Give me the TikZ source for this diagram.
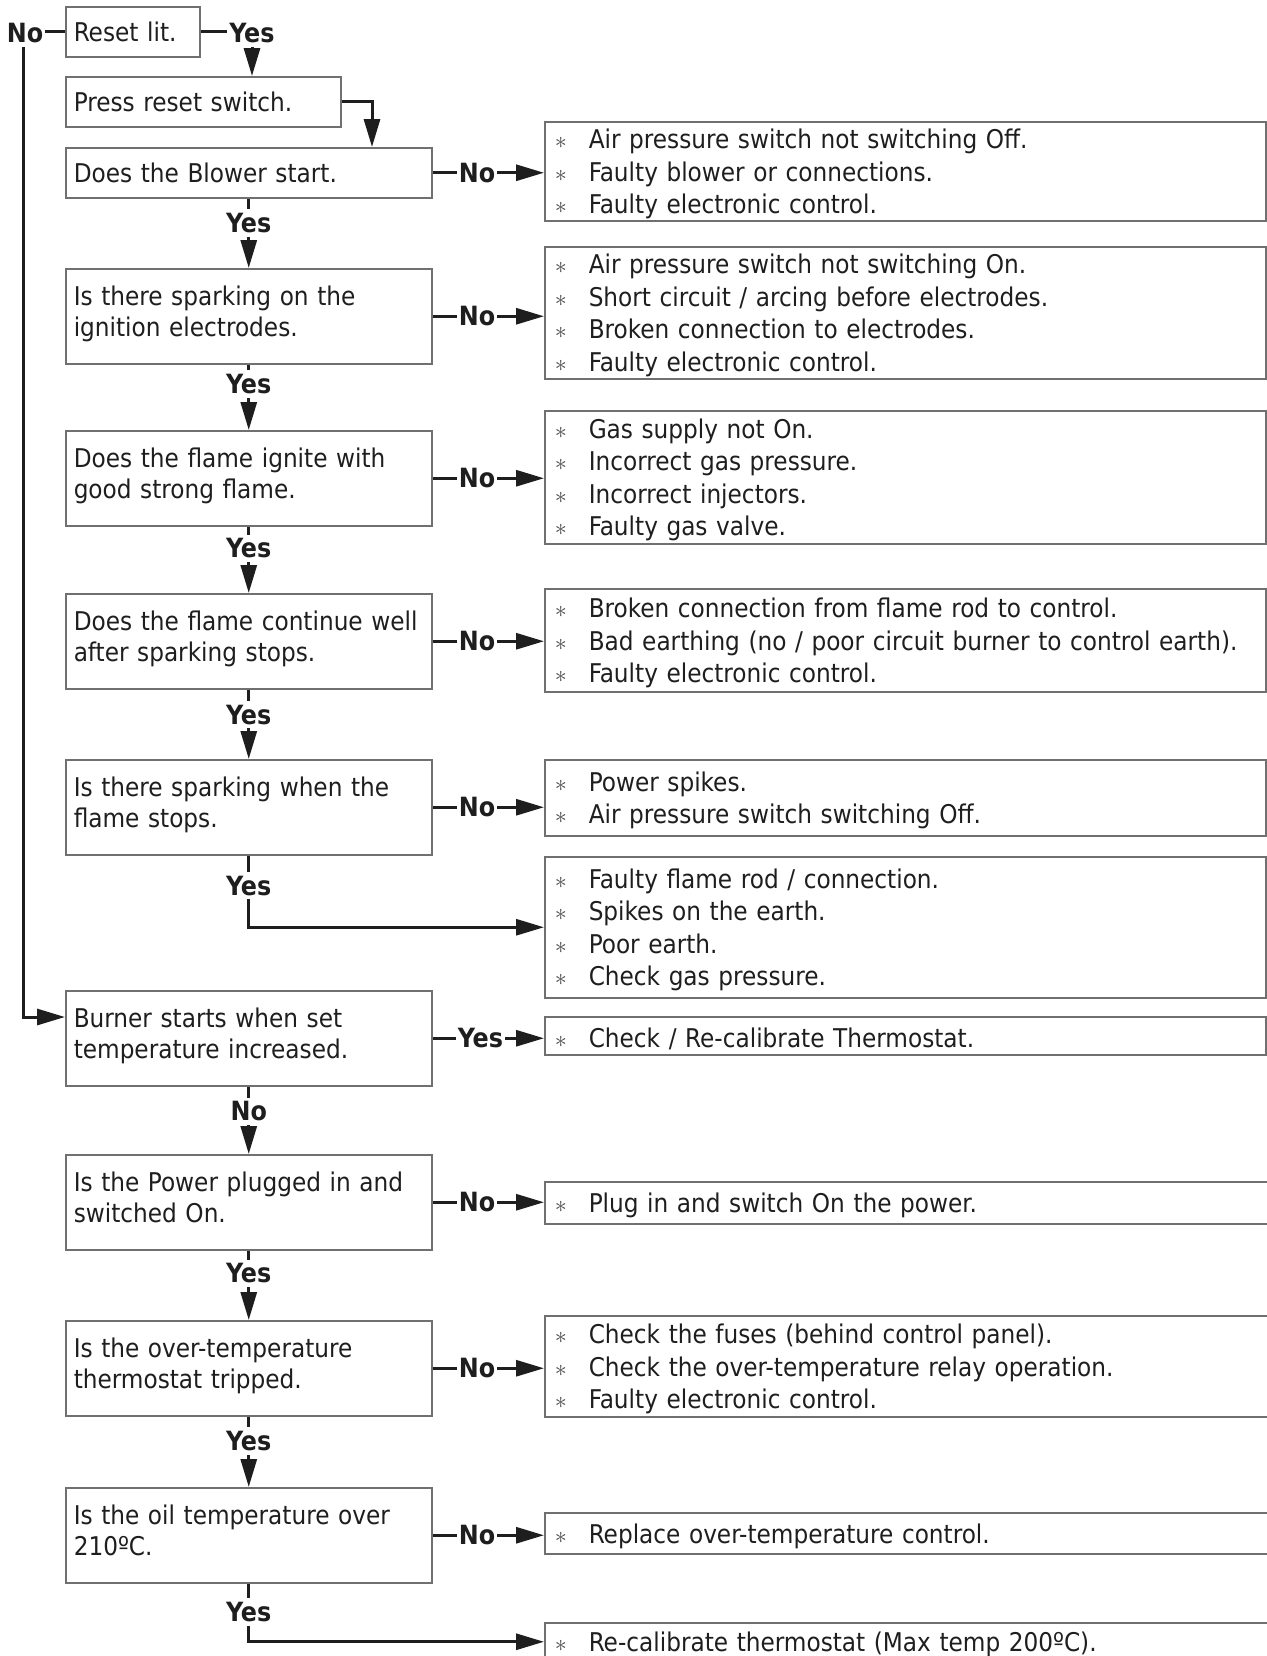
\documentclass[tikz,border=0pt]{standalone}
\usepackage{fontspec}
\setmainfont{DejaVu Sans Condensed}
\usetikzlibrary{arrows.meta}

\definecolor{boxgrey}{HTML}{707070}
\definecolor{stargrey}{HTML}{4A4A4A}
\definecolor{inkgrey}{HTML}{1E1E1E}

\newcommand{\cause}[1]{\makebox[18pt][l]{\hspace{1pt}\textcolor{stargrey}{$\ast$}}#1}

\begin{document}
\begin{tikzpicture}[x=0.5pt, y=-0.5pt,
    every node/.style={text=inkgrey},
    sbox/.style={draw=boxgrey, line width=0.75pt, anchor=north west, inner xsep=4pt, inner ysep=2pt,
        text width=175pt, align=left, minimum height=25pt, font=\fontsize{12.9pt}{15.5pt}\selectfont},
    qbox/.style={sbox, minimum height=47.5pt, execute at end node={\rule[-5pt]{0pt}{5pt}}},
    rbox/.style={draw=boxgrey, line width=0.75pt, anchor=north west, inner xsep=4pt, inner ysep=1pt,
        text width=352.5pt, align=left, font=\fontsize{12.9pt}{16.25pt}\selectfont,
        execute at begin node={\rule{0pt}{12.5pt}}},
    openbox/.style={rbox, text width=365pt},
    lbl/.style={fill=white, inner xsep=1pt, inner ysep=2pt, font=\fontsize{13.25pt}{15pt}\selectfont\bfseries},
    link/.style={draw=inkgrey, line width=1.5pt},
    arr/.style={link, -{Triangle[length=14pt, width=8pt]}}]

    \useasboundingbox (0,0) rectangle (1266,1656);

    % questions
    \node[sbox, text width=59pt] (reset) at (65,6) {Reset lit.};
    \node[sbox, text width=129.5pt] (press) at (65,76) {Press reset switch.};
    \node[sbox] (blower) at (65,147) {Does the Blower start.};
    \node[qbox] (spark) at (65,268) {Is there sparking on the\\ignition electrodes.};
    \node[qbox] (flame) at (65,430) {Does the flame ignite with\\good strong flame.};
    \node[qbox] (cont) at (65,593) {Does the flame continue well\\after sparking stops.};
    \node[qbox] (stops) at (65,759) {Is there sparking when the\\flame stops.};
    \node[qbox] (burner) at (65,990) {Burner starts when set\\temperature increased.};
    \node[qbox] (power) at (65,1154) {Is the Power plugged in and\\switched On.};
    \node[qbox] (overt) at (65,1320) {Is the over-temperature\\thermostat tripped.};
    \node[qbox] (oil) at (65,1487) {Is the oil temperature over\\210ºC.};

    % causes
    \node[rbox, minimum height=49pt] (r1) at (544,121) {\cause{Air pressure switch not switching Off.}\\\cause{Faulty blower or connections.}\\\cause{Faulty electronic control.}};
    \node[rbox, minimum height=66pt] (r2) at (544,246) {\cause{Air pressure switch not switching On.}\\\cause{Short circuit / arcing before electrodes.}\\\cause{Broken connection to electrodes.}\\\cause{Faulty electronic control.}};
    \node[rbox, minimum height=66.5pt] (r3) at (544,410) {\cause{Gas supply not On.}\\\cause{Incorrect gas pressure.}\\\cause{Incorrect injectors.}\\\cause{Faulty gas valve.}};
    \node[rbox, minimum height=51.5pt] (r4) at (544,588) {\cause{Broken connection from flame rod to control.}\\\cause{Bad earthing (no / poor circuit burner to control earth).}\\\cause{Faulty electronic control.}};
    \node[rbox, minimum height=38pt] (r5) at (544,759) {\cause{Power spikes.}\\\cause{Air pressure switch switching Off.}};
    \node[rbox, minimum height=70.5pt] (r6) at (544,856) {\cause{Faulty flame rod / connection.}\\\cause{Spikes on the earth.}\\\cause{Poor earth.}\\\cause{Check gas pressure.}};
    \node[rbox, minimum height=19pt] (r7) at (544,1016) {\cause{Check / Re-calibrate Thermostat.}};
    \node[openbox, minimum height=21pt] (r8) at (544,1181) {\cause{Plug in and switch On the power.}};
    \node[openbox, minimum height=50.5pt] (r9) at (544,1315) {\cause{Check the fuses (behind control panel).}\\\cause{Check the over-temperature relay operation.}\\\cause{Faulty electronic control.}};
    \node[openbox, minimum height=20.5pt] (r10) at (544,1512) {\cause{Replace over-temperature control.}};
    \node[openbox, minimum height=19pt] (r11) at (544,1622) {\cause{Re-calibrate thermostat (Max temp 200ºC).}};

    \coordinate (noturn) at (23,31);
    \coordinate (yesturn) at (252,31);
    \coordinate (pressturn) at (372,101);
    \coordinate (burnerin) at (65,1017);

    % top part
    \draw[arr] (reset.east) -| (yesturn |- press.north);
    \node[lbl] at (252,33) {Yes};
    \draw[arr] (reset.west) -| (noturn |- burnerin) -- (burnerin);
    \node[lbl] at (25,33) {No};
    \draw[arr] (press.east) -| (pressturn |- blower.north);

    % down the questions
    \draw[arr] (blower.south) -- node[lbl, pos=0.35] {Yes} (spark.north);
    \draw[arr] (spark.south) -- node[lbl, pos=0.3] {Yes} (flame.north);
    \draw[arr] (flame.south) -- node[lbl, pos=0.33] {Yes} (cont.north);
    \draw[arr] (cont.south) -- node[lbl, pos=0.36] {Yes} (stops.north);
    \draw[arr] (stops.south) |- node[lbl, pos=0.21] {Yes} (r6.west);
    \draw[arr] (burner.south) -- node[lbl, pos=0.37] {No} (power.north);
    \draw[arr] (power.south) -- node[lbl, pos=0.33] {Yes} (overt.north);
    \draw[arr] (overt.south) -- node[lbl, pos=0.35] {Yes} (oil.north);
    \draw[arr] (oil.south) |- node[lbl, pos=0.245] {Yes} (r11.west);

    % across to the causes
    \draw[arr] (blower.east) -- node[lbl, pos=0.4] {No} (blower.east -| r1.west);
    \draw[arr] (spark.east) -- node[lbl, pos=0.4] {No} (spark.east -| r2.west);
    \draw[arr] (flame.east) -- node[lbl, pos=0.4] {No} (flame.east -| r3.west);
    \draw[arr] (cont.east) -- node[lbl, pos=0.4] {No} (cont.east -| r4.west);
    \draw[arr] (stops.east) -- node[lbl, pos=0.4] {No} (stops.east -| r5.west);
    \draw[arr] (burner.east) -- node[lbl, pos=0.43] {Yes} (burner.east -| r7.west);
    \draw[arr] (power.east) -- node[lbl, pos=0.4] {No} (power.east -| r8.west);
    \draw[arr] (overt.east) -- node[lbl, pos=0.4] {No} (overt.east -| r9.west);
    \draw[arr] (oil.east) -- node[lbl, pos=0.4] {No} (oil.east -| r10.west);

\end{tikzpicture}
\end{document}
